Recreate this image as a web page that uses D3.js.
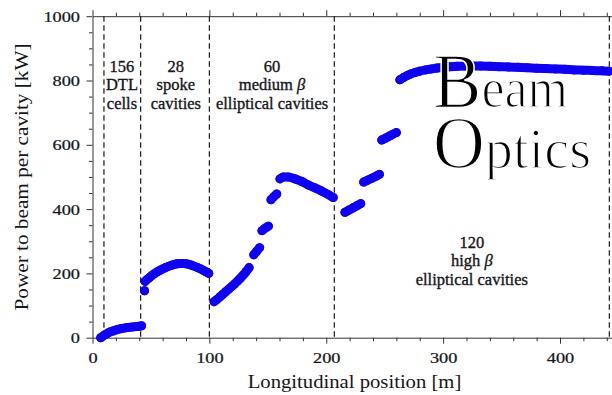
<!DOCTYPE html>
<html><head><meta charset="utf-8">
<script src="https://cdn.jsdelivr.net/npm/d3@7"></script>
<style>body{margin:0;background:#fff} svg{display:block}</style>
</head><body>
<svg id="c" width="612" height="395"></svg>
<script>
// ---- data ----
const xMajor = [0, 100, 200, 300, 400];
const xMinor = [20, 40, 60, 80, 120, 140, 160, 180, 220, 240, 260, 280, 320, 340, 360, 380, 420, 440];
const yMajor = [0, 200, 400, 600, 800, 1000];
const yMinor = [50, 100, 150, 250, 300, 350, 450, 500, 550, 650, 700, 750, 850, 900, 950];
const boundaries = [9.8, 41.2, 100, 206.9, 442.2];

const dtl = [[7,0],[9,5],[11,10],[13,14],[15,18],[17.5,21],[20,24],[22.5,26.5],[25,28.5],[28,30.5],[31,32],[34,33.5],[37,34.5],[40,35.5],[42,37]];
const spokeFirst = [[44.5,146]];
const spoke = [[45,175],[47,182],[49,188],[51,194],[53,199],[55,204],[57.5,209],[60,214],[62.5,218],[65,222],[67.5,225],[70,228],[72.5,230],[75,231],[77.5,231],[80,230],[82.5,228],[85,225],[87.5,222],[90,218],[92.5,214],[95,209],[97.5,204],[99.5,200]];
const medA = [[104,112],[106.5,119],[109,127],[111.5,135],[114,143],[116.5,151],[119,159],[121.5,167],[124,176],[126.5,185],[129,195],[131.5,206],[134,218]];
const medB = [[138,258],[140.5,269],[143,280]];
const medC = [[145,333],[147.5,340],[150.5,347]];
const medD = [[152.7,429],[155,438],[157.6,447]];
const medE = [[160.4,494],[163.3,500],[167.5,500],[173.3,494],[179,486],[184.7,475],[190.4,466],[196,456],[201.8,445],[206,436]];
const hiA = [[216,390],[219.5,397],[223,404],[226.5,411],[229.5,417]];
const hiB = [[232,484],[235.5,490],[239,496],[242.5,502],[245.5,508]];
const hiC = [[247.5,615],[251,621],[254,627],[257,633],[260,638]];
const hiD = [[263,802],[266,809],[269,815],[272,820],[276,825],[280,829],[285,833],[290,836],[295,839],[300,841],[306,843],[312,844],[318,845],[325,845],[332,845],[340,844],[348,843],[356,842],[364,841],[372,840],[380,838],[388,837],[396,836],[404,835],[412,833],[420,832],[428,831],[436,830],[442,829]];
const groups = [dtl, spokeFirst, spoke, medA, medB, medC, medD, medE, hiA, hiB, hiC, hiD];

const sections = [
  {cx: 25.2, lines: [["156"],["DTL"],["cells"]], y0: 72},
  {cx: 71.3, lines: [["28"],["spoke"],["cavities"]], y0: 72},
  {cx: 153.6, lines: [["60"],["medium ", "β"],["elliptical cavities"]], y0: 72},
  {cx: 324.5, lines: [["120"],["high ", "β"],["elliptical cavities"]], y0: 248}
];

// ---- chart ----
const svg = d3.select("#c");
const x = d3.scaleLinear().domain([0, 445]).range([92.5, 612.6]);
const y = d3.scaleLinear().domain([0, 1000]).range([337.7, 16.2]);
const serif = "'Liberation Serif', 'DejaVu Serif', serif";
const ink = "#161620";
const axisCol = "#333";

function styleAxis(g){
  g.selectAll("path.domain").attr("stroke", axisCol).attr("stroke-width", 1);
  g.selectAll(".tick line").attr("stroke", axisCol).attr("stroke-width", 1);
  g.attr("font-family", serif).attr("font-size", 15.5);
  g.selectAll("text").attr("fill", ink).attr("stroke", ink).attr("stroke-width", 0.25);
}

// bottom
const gB = svg.append("g").attr("transform", `translate(0,${y(0)})`)
  .call(d3.axisBottom(x).tickValues(xMajor).tickSize(6).tickSizeOuter(0).tickPadding(8.3).tickFormat(d3.format("d")));
styleAxis(gB);
gB.selectAll("text").attr("transform", "scale(1.18,1)");
const gBm = svg.append("g").attr("transform", `translate(0,${y(0)})`)
  .call(d3.axisBottom(x).tickValues(xMinor).tickSize(3.5).tickFormat(""));
gBm.select("path.domain").remove(); styleAxis(gBm);

// top
const gT = svg.append("g").attr("transform", `translate(0,${y(1000)})`)
  .call(d3.axisTop(x).tickValues(xMajor).tickSize(6).tickSizeOuter(0).tickFormat(""));
styleAxis(gT);
const gTm = svg.append("g").attr("transform", `translate(0,${y(1000)})`)
  .call(d3.axisTop(x).tickValues(xMinor).tickSize(3.5).tickFormat(""));
gTm.select("path.domain").remove(); styleAxis(gTm);

// left
const gL = svg.append("g").attr("transform", `translate(${x(0)},0)`)
  .call(d3.axisLeft(y).tickValues(yMajor).tickSize(6).tickSizeOuter(0).tickPadding(4.6).tickFormat(d3.format("d")));
styleAxis(gL);
gL.selectAll("text").attr("transform", "scale(1.18,1)");
const gLm = svg.append("g").attr("transform", `translate(${x(0)},0)`)
  .call(d3.axisLeft(y).tickValues(yMinor).tickSize(3.5).tickFormat(""));
gLm.select("path.domain").remove(); styleAxis(gLm);

// section boundaries
svg.append("g").selectAll("line").data(boundaries).join("line")
  .attr("x1", d => x(d)).attr("x2", d => x(d))
  .attr("y1", y(1000)).attr("y2", y(0))
  .attr("stroke", "#1a1a1a").attr("stroke-width", 1.2).attr("stroke-dasharray", "5.5,3.5");

// data
const blue = "#1000f2";
const line = d3.line().x(d => x(d[0])).y(d => y(d[1])).curve(d3.curveMonotoneX);
const gD = svg.append("g");
gD.selectAll("path").data(groups).join("path")
  .attr("d", line).attr("fill", "none").attr("stroke", blue)
  .attr("stroke-width", 9).attr("stroke-linecap", "round").attr("stroke-linejoin", "round");
gD.selectAll("circle").data(groups.flat()).join("circle")
  .attr("cx", d => x(d[0])).attr("cy", d => y(d[1])).attr("r", 4.5).attr("fill", blue);

// section labels
sections.forEach(s => {
  s.lines.forEach((ln, i) => {
    const t = svg.append("text")
      .attr("transform", `translate(${x(s.cx)},${s.y0 + i * 18.3})`)
      .attr("text-anchor", "middle").attr("font-family", serif).attr("font-size", 16.5)
      .attr("fill", ink).attr("stroke", ink).attr("stroke-width", 0.35);
    t.append("tspan").text(ln[0]);
    if (ln[1]) t.append("tspan").attr("font-style", "italic").text(ln[1]);
  });
});

// axis titles
svg.append("text").attr("transform", "translate(354.5,388) scale(1.15,1)")
  .attr("text-anchor", "middle").attr("font-family", serif).attr("font-size", 18).attr("fill", ink)
  .text("Longitudinal position [m]");
svg.append("text").attr("transform", "translate(28,177) rotate(-90) scale(1.18,1)")
  .attr("text-anchor", "middle").attr("font-family", serif).attr("font-size", 18).attr("fill", ink)
  .text("Power to beam per cavity [kW]");

// logo text (thin decorative look: large capital, small lowercase, thinned strokes)
function logo(cap, rest, xPos, yPos, capSize, restSize, sx){
  const t = svg.append("text").attr("transform", `translate(${xPos},${yPos}) scale(${sx},1)`)
    .attr("font-family", serif).attr("fill", "#000")
    .attr("stroke", "#fff").attr("stroke-width", 1.6).attr("paint-order", "fill");
  t.append("tspan").attr("font-size", capSize).text(cap);
  t.append("tspan").attr("font-size", restSize).text(rest);
}
logo("B", "eam", 433, 106.7, 78, 56, 0.93);
logo("O", "ptics", 433, 168, 74, 58, 0.97);
</script>
</body></html>
